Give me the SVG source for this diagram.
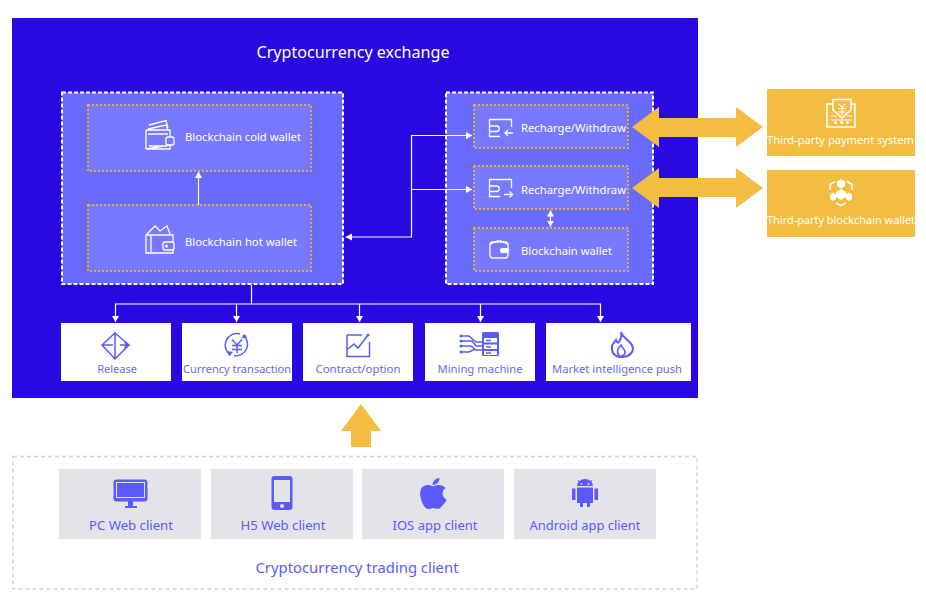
<svg xmlns="http://www.w3.org/2000/svg" width="926" height="599" viewBox="0 0 926 599">
<defs>
<marker id="ah" markerUnits="userSpaceOnUse" markerWidth="8" markerHeight="8" refX="6" refY="3.500" orient="auto-start-reverse"><path d="M0 0L6.500 3.500L0 7Z" fill="#fff"/></marker>
</defs>
<style>
text{font-family:"Noto Sans","Open Sans","Liberation Sans",sans-serif}
.panel{fill:#686bfd;stroke:#fff;stroke-width:2;stroke-dasharray:4 2}
.inner{fill:#7779ff;stroke:#e6ac3c;stroke-width:2;stroke-dasharray:2 2}
.tw{fill:#fff;font-size:11px}
.tb{fill:#6568f5;font-size:11px;text-anchor:middle}
.tc{fill:#5a5aff;font-size:13px;text-anchor:middle}
.card{fill:#fff}
.gray{fill:#e4e3e9}
.gold{fill:#f2bd41}
.conn{fill:none;stroke:#fff;stroke-width:1.200}
.iw{fill:none;stroke:#fff;stroke-width:1.300}
.ib{fill:none;stroke:#5a5cf5;stroke-width:1.500}
.ifill{fill:#5a5aff}
</style>
<rect id="exchange-bg" x="12" y="18" width="686" height="380" fill="#2809e2"/>
<text x="353" y="58" fill="#fff" font-size="16" text-anchor="middle" textLength="193" lengthAdjust="spacingAndGlyphs">Cryptocurrency exchange</text>
<g id="panel-left"><rect class="panel" x="62" y="92.500" width="281" height="191.500"/></g>
<g id="panel-right"><rect class="panel" x="446" y="92.500" width="207" height="191.500"/></g>

<g id="cold-wallet">
<rect class="inner" x="88" y="105" width="223" height="66"/>
<path class="iw" d="M148 129L166 125L168 130M149 125L166 120.500L168 128M146 130H170V137M170 145V149H146ZM146 130V149M148 134H168M149 146H167"/>
<rect class="iw" x="166" y="137" width="8" height="8" rx="2"/>
<text class="tw" x="185" y="141" textLength="116" lengthAdjust="spacingAndGlyphs">Blockchain cold wallet</text>
</g>
<g id="hot-wallet">
<rect class="inner" x="88" y="205" width="223" height="66"/>
<path class="iw" d="M146 235L155 226L160 231L167 226L170 234M147 235H173V242M173 250V253H146V235M151 236V252" />
<rect class="iw" x="163" y="242" width="11" height="8" rx="2"/>
<circle cx="166.500" cy="246" r="1.500" fill="#fff"/>
<text class="tw" x="185" y="246" textLength="112" lengthAdjust="spacingAndGlyphs">Blockchain hot wallet</text>
</g>
<g id="recharge-1">
<rect class="inner" x="474" y="105" width="154" height="43"/>
<path class="iw" d="M511.500 127V119.500H489.500V136.500H500M489.500 126H496.500A2.700 2.700 0 0 1 496.500 131.500H489.500M513 133H505M508 130L505 133L508 136"/>
<text class="tw" x="521" y="132" textLength="105" lengthAdjust="spacingAndGlyphs">Recharge/Withdraw</text>
</g>
<g id="recharge-2">
<rect class="inner" x="474" y="166" width="154" height="43"/>
<path class="iw" d="M511.500 188V179.500H489.500V196.500H500M489.500 186H496.500A2.700 2.700 0 0 1 496.500 191.500H489.500M504 194.500H512.500M509.500 191.500L512.500 194.500L509.500 197.500"/>
<text class="tw" x="521" y="194" textLength="105" lengthAdjust="spacingAndGlyphs">Recharge/Withdraw</text>
</g>
<g id="blockchain-wallet">
<rect class="inner" x="474" y="228" width="154" height="43"/>
<rect class="iw" x="490" y="242" width="18" height="16" rx="3"/>
<path d="M491 243.500L499 240.500L507 243.500" fill="none" stroke="#fff" stroke-width="2" stroke-dasharray="2 1"/>
<rect x="500" y="248" width="9" height="5" rx="2" fill="#fff"/>
<text class="tw" x="521" y="255" textLength="91" lengthAdjust="spacingAndGlyphs">Blockchain wallet</text>
</g>

<g id="connectors">
<path class="conn" d="M198.500 205V172" marker-end="url(#ah)"/>
<path class="conn" d="M346 237H411.500V135.500H472" marker-start="url(#ah)" marker-end="url(#ah)"/>
<path class="conn" d="M411.500 189.500H472" marker-end="url(#ah)"/>
<path class="conn" d="M550.500 210.500V226.500" marker-start="url(#ah)" marker-end="url(#ah)"/>
<path class="conn" d="M251.500 285V304M115.500 322V304H600.500V322M236.500 304V322M359.500 304V322M480.500 304V322" />
<path d="M112 316H119L115.500 322ZM233 316H240L236.500 322ZM356 316H363L359.500 322ZM477 316H484L480.500 322ZM597 316H604L600.500 322Z" fill="#fff"/>
</g>

<g id="release"><rect class="card" x="61" y="323" width="110" height="58"/>
<path class="ib" d="M115 333L129 345L115 359L102 345ZM102 345H113M115 333V359M120 345H127M124.500 342L127 345L124.500 348"/>
<text class="tb" x="117" y="373">Release</text></g>
<g id="currency"><rect class="card" x="182" y="323" width="110" height="58"/>
<path class="ib" d="M240 334A11.500 11.500 0 0 0 231 355M234 355.500A11.500 11.500 0 0 0 243 335M232 339.500L237 345L242 339.500M237 345V353M232 345.500H242M232 349.500H242"/>
<path class="ifill" d="M227 351L233 352L229 356ZM247 338L241 338L245 334Z"/>
<text class="tb" x="237" y="373" textLength="108" lengthAdjust="spacingAndGlyphs">Currency transaction</text></g>
<g id="contract"><rect class="card" x="303" y="323" width="110" height="58"/>
<path class="ib" stroke-width="1" d="M347 335V356.500H370M347 335H362M369.500 342V356.500M348 349L354 344L358 348L368 335"/>
<circle class="ifill" cx="368" cy="335" r="1.500"/>
<text class="tb" x="358" y="373" textLength="85" lengthAdjust="spacingAndGlyphs">Contract/option</text></g>
<g id="mining"><rect class="card" x="425" y="323" width="110" height="58"/>
<path class="ib" d="M461 336H469L476 342H482M461 341H472L476 346H482M461 346H471L476 350H482M461 352H469L475 349"/>
<rect x="482" y="332" width="17" height="24" rx="1.500" fill="#5a5cf5"/>
<g fill="#fff"><rect x="484" y="338" width="13" height="4.500"/><rect x="484" y="344.500" width="13" height="4.500"/><rect x="484" y="351" width="13" height="4"/></g>
<circle class="ifill" cx="461" cy="336" r="1.500"/><circle class="ifill" cx="461" cy="341" r="1.500"/><circle class="ifill" cx="461" cy="346" r="1.500"/><circle class="ifill" cx="461" cy="352" r="1.500"/>
<path d="M486 340.500H491M486 347H491M486 353H491" stroke="#5a5cf5" stroke-width="1.500" fill="none"/>
<text class="tb" x="480" y="373" textLength="85" lengthAdjust="spacingAndGlyphs">Mining machine</text></g>
<g id="market"><rect class="card" x="546" y="323" width="145" height="58"/>
<path d="M621 332C623 338 628 339 632 345C635 351 630 357 622 357C614 357 611 352 612 346C613 343 615 342 616 340C617 343 618 343 619 342C621 339 622 336 621 332Z" fill="none" stroke="#5a5cf5" stroke-width="2"/>
<path d="M620 356C616 353 617 349 621 345C622 348 626 350 625 353C624.500 355 623 356 621 356" fill="none" stroke="#5a5cf5" stroke-width="1.500"/>
<text class="tb" x="617" y="373" textLength="130" lengthAdjust="spacingAndGlyphs">Market intelligence push</text></g>

<g id="payment"><rect class="gold" x="767" y="89" width="148" height="67"/>
<path d="M833 104H827V127H855V104H851M833 110V99.500H851V110L842 118Z" fill="none" stroke="#fff" stroke-width="1.600"/>
<path d="M838.500 103.500L842 107.500L845.500 103.500M842 107.500V115M838 108.500H846M838 112H846M831 116H837M847 116H852M831 120H852" fill="none" stroke="#fff" stroke-width="1.100"/>
<circle cx="835.500" cy="122.500" r="1.500" fill="#fff"/><circle cx="841.500" cy="122.500" r="1.500" fill="#fff"/><circle cx="847.500" cy="122.500" r="1.500" fill="#fff"/>
<text fill="#fff" font-size="11" x="767" y="144" textLength="147" lengthAdjust="spacingAndGlyphs">Third-party payment system</text></g>
<g id="blockchain-ext"><rect class="gold" x="767" y="170" width="148" height="67"/>
<path d="M841 179L845 181.500V186L841 188.500L837 186V181.500ZM841 189L846 192V197L841 200L836 197V192ZM833 192.500L836 194.500V199L833 201L830 199V194.500ZM849 192.500L852 194.500V199L849 201L846 199V194.500Z" fill="#fff"/>
<path d="M830 190V184.500L835 181.500M852 190V184.500L847 181.500M836 203L841 205.500L846 203" fill="none" stroke="#fff" stroke-width="1.500"/>
<text fill="#fff" font-size="11" x="767" y="224" textLength="148" lengthAdjust="spacingAndGlyphs">Third-party blockchain wallet</text></g>

<g id="arrows" class="gold">
<path d="M632 127L659 107V118H736V107L763 127L736 147V137H659V147Z"/>
<path d="M632 188L659 168V178H736V168L763 188L736 208V197H659V208Z"/>
<path d="M361 404L381 431H371V447H351V431H341Z"/>
</g>

<g id="client-frame"><rect x="13" y="456.500" width="684" height="132.500" fill="#fff" stroke="#d2d2d2" stroke-width="1.500" stroke-dasharray="4 3"/>
<text class="tc" x="357" y="573" style="font-size:14px" textLength="203" lengthAdjust="spacingAndGlyphs">Cryptocurrency trading client</text></g>
<g id="pc"><rect class="gray" x="59" y="469" width="142" height="70"/>
<rect x="113.500" y="479.500" width="34" height="22" rx="3" fill="#5a5aff"/>
<rect x="116.500" y="482.500" width="28" height="15" fill="#5a5aff" stroke="#e4e3e9" stroke-width="1"/>
<path d="M128 501H133V506H137V508H125V506H128Z" fill="#5a5aff"/>
<text class="tc" x="131" y="530" textLength="84" lengthAdjust="spacingAndGlyphs">PC Web client</text></g>
<g id="h5"><rect class="gray" x="211" y="469" width="142" height="70"/>
<rect x="271.500" y="476" width="21" height="34" rx="3" fill="#5a5aff"/>
<rect x="274" y="480" width="16" height="22" fill="#e4e3e9"/>
<circle cx="282" cy="506" r="2" fill="#e4e3e9"/>
<text class="tc" x="283" y="530" textLength="85" lengthAdjust="spacingAndGlyphs">H5 Web client</text></g>
<g id="ios"><rect class="gray" x="362" y="469" width="142" height="70"/>
<path d="M433 486.500C429 484 423 484.500 421 489C419 494 421 501 424 506C426 509.500 429 509.500 433 508C437 509.500 440 509 442 506C444 504 446 502 446.500 499.500C442 497.500 441 491 445.500 488C443 484.500 437 484 433 486.500Z" fill="#5a5aff"/>
<path d="M432.500 485C432.500 481.500 435 478.500 439.500 478C439.500 482 436.500 485 432.500 485Z" fill="#5a5aff"/>
<text class="tc" x="435" y="530" textLength="85" lengthAdjust="spacingAndGlyphs">IOS app client</text></g>
<g id="android"><rect class="gray" x="514" y="469" width="142" height="70"/>
<path d="M577 486A8 7 0 0 1 593 486ZM577 487.500H593V503H590V507H587V503H583V507H580V503H577ZM572 488.500H575.500V500H572ZM594.500 488.500H598V500H594.500Z" fill="#5a5aff"/>
<path d="M578 480L580 483M592 480L590 483" stroke="#5a5aff" fill="none"/>
<circle cx="581.500" cy="484" r="1" fill="#e4e3e9"/><circle cx="588.500" cy="484" r="1" fill="#e4e3e9"/>
<text class="tc" x="585" y="530" textLength="111" lengthAdjust="spacingAndGlyphs">Android app client</text></g>
</svg>
